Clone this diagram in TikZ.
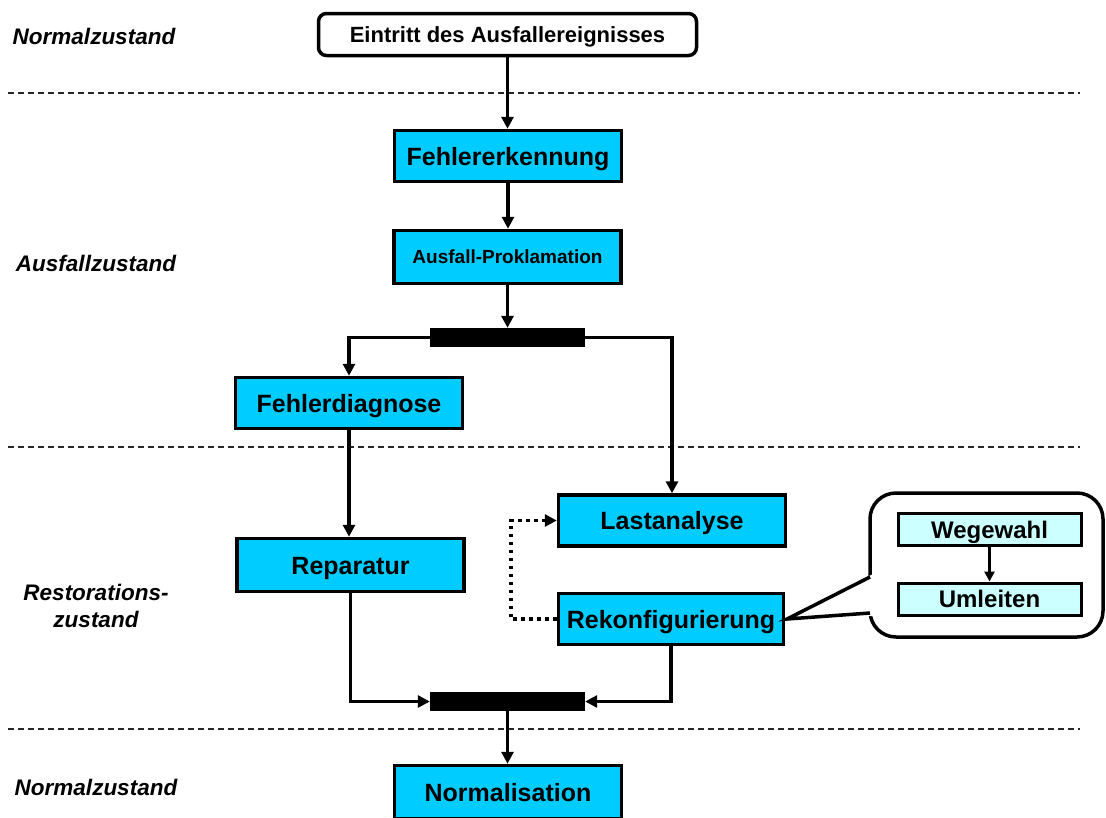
\documentclass[tikz,border=0pt]{standalone}
\usepackage{fontspec}
\setmainfont{Liberation Sans}
\usetikzlibrary{arrows.meta}
\definecolor{boxcyan}{RGB}{0,204,255}
\definecolor{palecyan}{RGB}{204,255,255}
\begin{document}
\begin{tikzpicture}[x=1pt,y=-1pt,
  stepbox/.style={draw=black, line width=3.5pt, fill=boxcyan, inner sep=0pt,
    font=\fontsize{25}{28}\selectfont\bfseries, text height=18pt, text depth=0pt,
    minimum width=227pt, minimum height=51pt},
  subbox/.style={draw=black, line width=3pt, fill=palecyan, inner sep=0pt,
    font=\fontsize{24}{27}\selectfont\bfseries, text height=17.2pt, text depth=0pt,
    minimum width=183pt, minimum height=32pt},
  syncbar/.style={fill=black, inner sep=0pt, minimum width=155pt, minimum height=19pt},
  phase/.style={font=\fontsize{22.5}{27}\selectfont\bfseries\itshape, align=center},
  arr/.style={line width=3.5pt, -{Triangle[length=12pt,width=12pt]}},
  sep/.style={line width=1.2pt, black!85, dash pattern=on 6pt off 4pt},
  dots/.style={line width=3.5pt, dash pattern=on 3.5pt off 4.5pt, -{Triangle[length=12pt,width=12pt]}}
]
\useasboundingbox (0,0) rectangle (1106,817);

% phase separators
\draw[sep] (8,93) -- (1080,93);
\draw[sep] (8,447) -- (1080,447);
\draw[sep] (8,729) -- (1080,729);

% phase labels
\node[phase] (p1) at (94,36) {Normalzustand};
\node[phase] (p2) at (96,263) {Ausfallzustand};
\node[phase] (p3) at (96,606) {Restorations-\\zustand};
\node[phase] (p4) at (96,787) {Normalzustand};

% process steps
\node[draw=black, line width=3.5pt, fill=white, rounded corners=8pt, inner sep=0pt,
  minimum width=378pt, minimum height=42pt, text height=15.8pt, text depth=0pt,
  font=\fontsize{22}{26}\selectfont\bfseries]
  (start) at (507.5,34.5) {Eintritt des Ausfallereignisses};
\node[stepbox] (fe) at (508,156) {Fehlererkennung};
\node[stepbox, minimum height=53pt, text height=13.6pt, font=\fontsize{19}{22}\selectfont\bfseries] (ap) at (507.5,257) {Ausfall-Proklamation};
\node[syncbar] (bar1) at (507.5,337.5) {};
\node[stepbox] (fd) at (349,403) {Fehlerdiagnose};
\node[stepbox] (la) at (672,520.5) {Lastanalyse};
\node[stepbox, minimum height=53pt] (rp) at (350.5,565) {Reparatur};
\node[stepbox, minimum width=225pt] (rk) at (671,619) {Rekonfigurierung};
\node[syncbar] (bar2) at (507.5,701.5) {};
\node[stepbox, minimum height=53pt] (nm) at (508,792) {Normalisation};

% connectors
\draw[arr] (start.south) -- (start.south |- fe.north);
\draw[arr] (fe.south) -- (fe.south |- ap.north);
\draw[arr] (ap.south) -- (ap.south |- bar1.north);
\draw[arr] (bar1.west) -| (fd.north);
\draw[arr] (bar1.east) -| (la.north);
\draw[arr] (fd.south) -- (fd.south |- rp.north);
\draw[dots] (rk.west) -- ++(-46,0) |- (la.west);
\draw[arr] (rp.south) |- (bar2.west);
\draw[arr] (rk.south) |- (bar2.east);
\draw[arr] (bar2.south) -- (bar2.south |- nm.north);

% callout detailing the reconfiguration
\coordinate (tip) at (787,619);
\draw[line width=3.5pt, fill=white, rounded corners=26pt] (870,493) rectangle (1103,637);
\fill[white] (tip) -- (873,574) -- (873,616) -- cycle;
\draw[line width=3.5pt, line join=miter] (870,577) -- (tip) -- (870,613);
\node[subbox] (ww) at (989.5,529.5) {Wegewahl};
\node[subbox] (ul) at (989.5,599) {Umleiten};
\draw[line width=2.5pt, -{Triangle[length=10pt,width=10pt]}] (ww.south) -- (ul.north);
\end{tikzpicture}
\end{document}
